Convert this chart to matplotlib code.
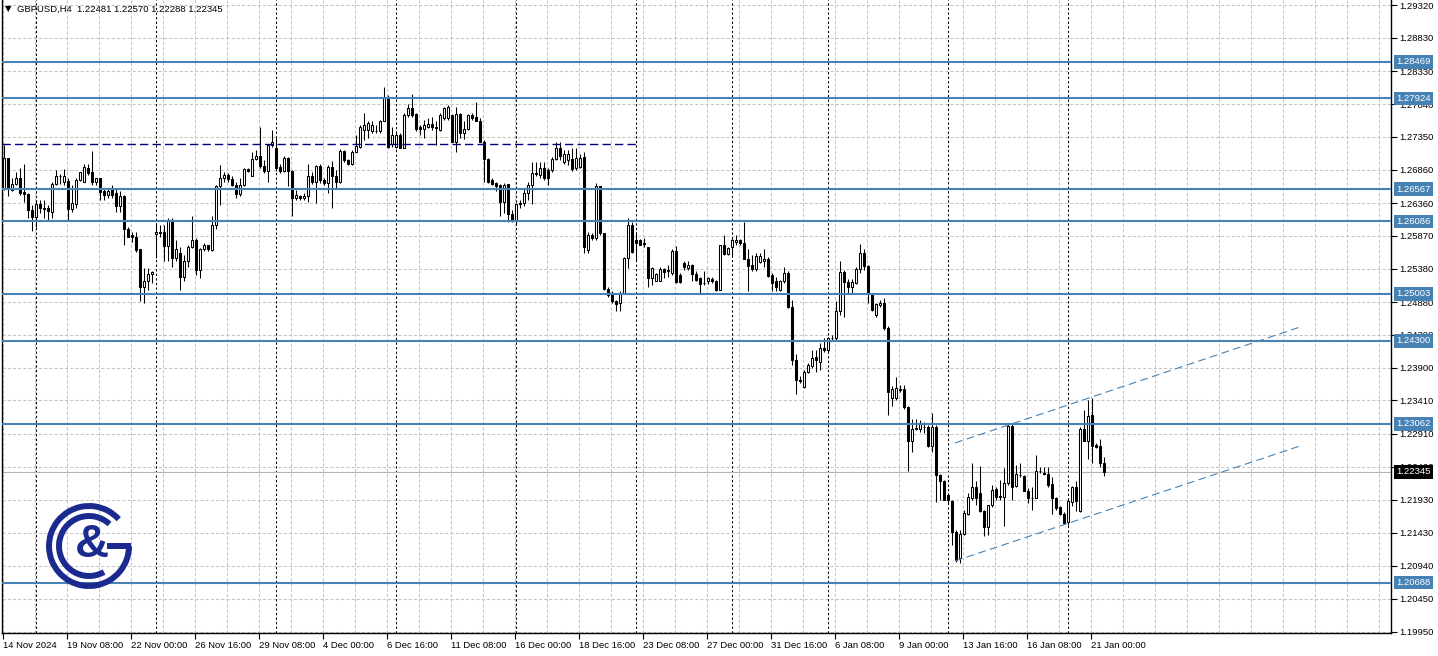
import matplotlib
matplotlib.use("Agg")
import matplotlib.pyplot as plt
import matplotlib.transforms as mtransforms
from matplotlib.patches import Arc
import numpy as np

plt.rcParams['font.family'] = ['Liberation Sans', 'DejaVu Sans']

# --- GBPUSD H4 candles, 14 Nov 2024 16:00 .. 21 Jan 2025 ---
opens = [
    1.2657, 1.2704, 1.2656, 1.2664, 1.2673, 1.2652, 1.2649, 1.2626, 1.2615, 1.2634,
    1.2628, 1.2629, 1.2623, 1.2664, 1.2677, 1.2668, 1.2669, 1.2627, 1.2635, 1.2671,
    1.2667, 1.2688, 1.2682, 1.2668, 1.2673, 1.2654, 1.2648, 1.2656, 1.2651, 1.2631,
    1.2646, 1.2598, 1.2588, 1.2586, 1.2567, 1.2510, 1.2519, 1.2530, 1.2590, 1.2593,
    1.2593, 1.2572, 1.2611, 1.2554, 1.2561, 1.2525, 1.2549, 1.2570, 1.2581, 1.2536,
    1.2567, 1.2573, 1.2566, 1.2603, 1.2662, 1.2673, 1.2678, 1.2672, 1.2663, 1.2649,
    1.2663, 1.2687, 1.2677, 1.2702, 1.2707, 1.2691, 1.2684, 1.2723, 1.2718, 1.2690,
    1.2684, 1.2703, 1.2684, 1.2643, 1.2646, 1.2644, 1.2646, 1.2677, 1.2668, 1.2691,
    1.2671, 1.2666, 1.2690, 1.2677, 1.2668, 1.2714, 1.2700, 1.2695, 1.2713, 1.2720,
    1.2745, 1.2745, 1.2743, 1.2744, 1.2743, 1.2759, 1.2795, 1.2725, 1.2720, 1.2738,
    1.2719, 1.2768, 1.2778, 1.2769, 1.2749, 1.2746, 1.2750, 1.2754, 1.2750, 1.2745,
    1.2763, 1.2763, 1.2768, 1.2728, 1.2769, 1.2740, 1.2747, 1.2768, 1.2765, 1.2759,
    1.2728, 1.2702, 1.2671, 1.2666, 1.2663, 1.2638, 1.2664, 1.2619, 1.2609, 1.2636,
    1.2636, 1.2651, 1.2663, 1.2681, 1.2678, 1.2688, 1.2686, 1.2686, 1.2702, 1.2719,
    1.2697, 1.2700, 1.2702, 1.2688, 1.2690, 1.2705, 1.2566, 1.2589, 1.2584, 1.2661,
    1.2591, 1.2508, 1.2500, 1.2490, 1.2486, 1.2501, 1.2554, 1.2603, 1.2581, 1.2581,
    1.2576, 1.2570, 1.2524, 1.2519, 1.2520, 1.2538, 1.2534, 1.2531, 1.2564, 1.2529,
    1.2546, 1.2539, 1.2544, 1.2530, 1.2524, 1.2516, 1.2519, 1.2523, 1.2520, 1.2506,
    1.2573, 1.2560, 1.2570, 1.2578, 1.2581, 1.2577, 1.2553, 1.2543, 1.2537, 1.2548,
    1.2550, 1.2553, 1.2528, 1.2519, 1.2506, 1.2519, 1.2532, 1.2480, 1.2402, 1.2371,
    1.2361, 1.2384, 1.2393, 1.2406, 1.2399, 1.2420, 1.2416, 1.2435, 1.2434, 1.2474,
    1.2533, 1.2518, 1.2511, 1.2517, 1.2537, 1.2562, 1.2542, 1.2500, 1.2469, 1.2484,
    1.2487, 1.2450, 1.2344, 1.2344, 1.2356, 1.2358, 1.2331, 1.2280, 1.2299, 1.2298,
    1.2302, 1.2302, 1.2273, 1.2302, 1.2230, 1.2221, 1.2200, 1.2191, 1.2145, 1.2105,
    1.2142, 1.2172, 1.2196, 1.2211, 1.2202, 1.2176, 1.2152, 1.2185, 1.2208, 1.2198,
    1.2197, 1.2217, 1.2303, 1.2213, 1.2230, 1.2228, 1.2206, 1.2196, 1.2196, 1.2235,
    1.2233, 1.2231, 1.2216, 1.2196, 1.2182, 1.2172, 1.2160, 1.2190, 1.2211, 1.2176,
    1.2298, 1.2281, 1.2319, 1.2274, 1.2273, 1.22481,
]
highs = [
    1.2723, 1.2704, 1.2673, 1.2682, 1.2689, 1.2695, 1.2651, 1.2633, 1.2641, 1.2641,
    1.2641, 1.2633, 1.2667, 1.2686, 1.2679, 1.2687, 1.2673, 1.2663, 1.2673, 1.2683,
    1.2694, 1.2694, 1.2714, 1.2674, 1.2674, 1.2658, 1.2659, 1.2663, 1.2658, 1.2654,
    1.2648, 1.2601, 1.2593, 1.2593, 1.2567, 1.2539, 1.2539, 1.2535, 1.2606, 1.2603,
    1.2603, 1.2613, 1.2613, 1.2581, 1.2571, 1.2559, 1.2573, 1.2616, 1.2584, 1.2569,
    1.2576, 1.2574, 1.2616, 1.2663, 1.2693, 1.2682, 1.2681, 1.2676, 1.2668, 1.2674,
    1.2689, 1.2688, 1.2713, 1.2715, 1.2750, 1.2700, 1.2725, 1.2745, 1.2733, 1.2695,
    1.2707, 1.2705, 1.2686, 1.2656, 1.2648, 1.2651, 1.2695, 1.2682, 1.2693, 1.2695,
    1.2673, 1.2693, 1.2699, 1.2686, 1.2717, 1.2715, 1.2702, 1.2715, 1.2738, 1.2753,
    1.2770, 1.2758, 1.2758, 1.2753, 1.2760, 1.2810, 1.2798, 1.2749, 1.2743, 1.2740,
    1.2770, 1.2784, 1.2799, 1.2770, 1.2753, 1.2760, 1.2763, 1.2765, 1.2758, 1.2770,
    1.2780, 1.2782, 1.2769, 1.2780, 1.2770, 1.2758, 1.2769, 1.2770, 1.2787, 1.2763,
    1.2730, 1.2703, 1.2673, 1.2667, 1.2664, 1.2666, 1.2664, 1.2626, 1.2636, 1.2641,
    1.2657, 1.2668, 1.2697, 1.2697, 1.2697, 1.2698, 1.2688, 1.2705, 1.2727, 1.2727,
    1.2715, 1.2715, 1.2718, 1.2718, 1.2710, 1.2713, 1.2593, 1.2591, 1.2666, 1.2662,
    1.2591, 1.2511, 1.2504, 1.2491, 1.2504, 1.2556, 1.2613, 1.2608, 1.2593, 1.2582,
    1.2584, 1.2571, 1.2540, 1.2531, 1.2541, 1.2539, 1.2544, 1.2567, 1.2572, 1.2531,
    1.2550, 1.2549, 1.2545, 1.2534, 1.2526, 1.2534, 1.2526, 1.2525, 1.2521, 1.2574,
    1.2589, 1.2571, 1.2586, 1.2588, 1.2583, 1.2607, 1.2567, 1.2558, 1.2561, 1.2561,
    1.2568, 1.2555, 1.2531, 1.2526, 1.2521, 1.2541, 1.2534, 1.2491, 1.2411, 1.2377,
    1.2387, 1.2397, 1.2416, 1.2416, 1.2427, 1.2434, 1.2436, 1.2439, 1.2489, 1.2550,
    1.2536, 1.2522, 1.2522, 1.2541, 1.2575, 1.2568, 1.2543, 1.2501, 1.2487, 1.2491,
    1.2494, 1.2452, 1.2363, 1.2376, 1.2364, 1.2364, 1.2332, 1.2314, 1.2314, 1.2312,
    1.2309, 1.2304, 1.2322, 1.2304, 1.2231, 1.2222, 1.2202, 1.2192, 1.2148, 1.2148,
    1.2177, 1.2202, 1.2247, 1.2220, 1.2243, 1.2178, 1.2185, 1.2215, 1.2212, 1.2222,
    1.2240, 1.2306, 1.2306, 1.2245, 1.2247, 1.2230, 1.2210, 1.2212, 1.2260, 1.2242,
    1.2242, 1.2242, 1.2227, 1.2197, 1.2183, 1.2175, 1.2195, 1.2213, 1.2220, 1.2302,
    1.2327, 1.2342, 1.2344, 1.2277, 1.2284, 1.22570,
]
lows = [
    1.2656, 1.2646, 1.2654, 1.2663, 1.2648, 1.2638, 1.2613, 1.2595, 1.2601, 1.2621,
    1.2613, 1.2611, 1.2614, 1.2663, 1.2665, 1.2663, 1.2611, 1.2622, 1.2628, 1.2669,
    1.2667, 1.2678, 1.2663, 1.2663, 1.2641, 1.2641, 1.2643, 1.2643, 1.2622, 1.2622,
    1.2574, 1.2585, 1.2578, 1.2563, 1.2490, 1.2486, 1.2506, 1.2516, 1.2554, 1.2586,
    1.2549, 1.2549, 1.2541, 1.2549, 1.2506, 1.2519, 1.2541, 1.2569, 1.2529, 1.2524,
    1.2565, 1.2565, 1.2565, 1.2598, 1.2633, 1.2668, 1.2668, 1.2661, 1.2643, 1.2646,
    1.2661, 1.2682, 1.2676, 1.2700, 1.2688, 1.2681, 1.2668, 1.2720, 1.2684, 1.2681,
    1.2682, 1.2661, 1.2616, 1.2641, 1.2641, 1.2641, 1.2638, 1.2664, 1.2636, 1.2666,
    1.2663, 1.2651, 1.2628, 1.2658, 1.2666, 1.2697, 1.2693, 1.2693, 1.2713, 1.2718,
    1.2730, 1.2733, 1.2740, 1.2740, 1.2740, 1.2758, 1.2718, 1.2720, 1.2718, 1.2718,
    1.2718, 1.2765, 1.2765, 1.2743, 1.2738, 1.2734, 1.2748, 1.2745, 1.2723, 1.2743,
    1.2760, 1.2760, 1.2727, 1.2713, 1.2733, 1.2732, 1.2745, 1.2760, 1.2758, 1.2727,
    1.2668, 1.2666, 1.2663, 1.2654, 1.2617, 1.2621, 1.2608, 1.2608, 1.2603, 1.2628,
    1.2631, 1.2641, 1.2634, 1.2676, 1.2674, 1.2671, 1.2663, 1.2682, 1.2700, 1.2700,
    1.2695, 1.2693, 1.2684, 1.2686, 1.2688, 1.2561, 1.2561, 1.2581, 1.2581, 1.2588,
    1.2506, 1.2496, 1.2486, 1.2474, 1.2474, 1.2500, 1.2539, 1.2561, 1.2549, 1.2573,
    1.2571, 1.2511, 1.2514, 1.2519, 1.2519, 1.2524, 1.2526, 1.2529, 1.2516, 1.2516,
    1.2536, 1.2536, 1.2519, 1.2519, 1.2500, 1.2514, 1.2515, 1.2516, 1.2504, 1.2506,
    1.2559, 1.2558, 1.2556, 1.2573, 1.2573, 1.2552, 1.2505, 1.2535, 1.2535, 1.2546,
    1.2541, 1.2526, 1.2504, 1.2505, 1.2505, 1.2517, 1.2479, 1.2394, 1.2351, 1.2367,
    1.2359, 1.2382, 1.2389, 1.2384, 1.2386, 1.2414, 1.2414, 1.2431, 1.2432, 1.2469,
    1.2466, 1.2501, 1.2501, 1.2515, 1.2531, 1.2536, 1.2486, 1.2474, 1.2466, 1.2481,
    1.2446, 1.2319, 1.2332, 1.2342, 1.2353, 1.2328, 1.2236, 1.2264, 1.2297, 1.2294,
    1.2292, 1.2272, 1.2264, 1.2190, 1.2192, 1.2192, 1.2188, 1.2125, 1.2100, 1.2098,
    1.2140, 1.2170, 1.2192, 1.2185, 1.2175, 1.2138, 1.2140, 1.2182, 1.2192, 1.2192,
    1.2154, 1.2215, 1.2192, 1.2212, 1.2227, 1.2205, 1.2188, 1.2178, 1.2195, 1.2232,
    1.2230, 1.2212, 1.2172, 1.2177, 1.2170, 1.2156, 1.2155, 1.2183, 1.2176, 1.2175,
    1.2280, 1.2253, 1.2248, 1.2270, 1.2242, 1.22288,
]
closes = [
    1.2703, 1.2658, 1.2665, 1.2673, 1.2651, 1.2650, 1.2625, 1.2615, 1.2635, 1.2628,
    1.2627, 1.2624, 1.2664, 1.2677, 1.2676, 1.2677, 1.2627, 1.2636, 1.2671, 1.2682,
    1.2690, 1.2681, 1.2668, 1.2673, 1.2653, 1.2648, 1.2654, 1.2648, 1.2631, 1.2646,
    1.2598, 1.2586, 1.2586, 1.2566, 1.2510, 1.2519, 1.2530, 1.2533, 1.2593, 1.2592,
    1.2572, 1.2611, 1.2554, 1.2567, 1.2525, 1.2549, 1.2570, 1.2581, 1.2536, 1.2567,
    1.2573, 1.2567, 1.2603, 1.2662, 1.2674, 1.2678, 1.2672, 1.2663, 1.2649, 1.2663,
    1.2687, 1.2684, 1.2702, 1.2707, 1.2691, 1.2684, 1.2723, 1.2727, 1.2689, 1.2684,
    1.2703, 1.2684, 1.2643, 1.2648, 1.2643, 1.2647, 1.2676, 1.2668, 1.2691, 1.2671,
    1.2666, 1.2690, 1.2677, 1.2668, 1.2714, 1.2700, 1.2695, 1.2713, 1.2721, 1.2750,
    1.2752, 1.2755, 1.2752, 1.2743, 1.2759, 1.2794, 1.2720, 1.2738, 1.2738, 1.2719,
    1.2768, 1.2778, 1.2768, 1.2746, 1.2746, 1.2753, 1.2754, 1.2749, 1.2748, 1.2768,
    1.2778, 1.2779, 1.2728, 1.2769, 1.2740, 1.2747, 1.2767, 1.2763, 1.2759, 1.2728,
    1.2702, 1.2668, 1.2664, 1.2662, 1.2638, 1.2663, 1.2619, 1.2611, 1.2634, 1.2634,
    1.2651, 1.2663, 1.2681, 1.2679, 1.2688, 1.2673, 1.2673, 1.2702, 1.2719, 1.2707,
    1.2709, 1.2710, 1.2687, 1.2704, 1.2704, 1.2571, 1.2589, 1.2584, 1.2661, 1.2591,
    1.2508, 1.2499, 1.2489, 1.2485, 1.2501, 1.2554, 1.2603, 1.2563, 1.2576, 1.2574,
    1.2575, 1.2524, 1.2539, 1.2530, 1.2538, 1.2533, 1.2536, 1.2564, 1.2518, 1.2518,
    1.2540, 1.2544, 1.2530, 1.2521, 1.2515, 1.2517, 1.2524, 1.2519, 1.2506, 1.2573,
    1.2560, 1.2569, 1.2581, 1.2581, 1.2576, 1.2553, 1.2542, 1.2537, 1.2557, 1.2557,
    1.2553, 1.2527, 1.2517, 1.2511, 1.2520, 1.2532, 1.2480, 1.2401, 1.2371, 1.2370,
    1.2384, 1.2394, 1.2405, 1.2401, 1.2419, 1.2416, 1.2434, 1.2434, 1.2474, 1.2533,
    1.2518, 1.2511, 1.2518, 1.2537, 1.2562, 1.2542, 1.2500, 1.2476, 1.2485, 1.2487,
    1.2449, 1.2354, 1.2358, 1.2359, 1.2358, 1.2331, 1.2280, 1.2299, 1.2300, 1.2306,
    1.2301, 1.2273, 1.2302, 1.2230, 1.2221, 1.2193, 1.2192, 1.2145, 1.2103, 1.2142,
    1.2173, 1.2197, 1.2211, 1.2196, 1.2176, 1.2152, 1.2185, 1.2207, 1.2197, 1.2197,
    1.2217, 1.2303, 1.2212, 1.2231, 1.2229, 1.2206, 1.2196, 1.2195, 1.2236, 1.2236,
    1.2231, 1.2215, 1.2195, 1.2181, 1.2171, 1.2158, 1.2191, 1.2211, 1.2191, 1.2298,
    1.2281, 1.2318, 1.2273, 1.2272, 1.2248, 1.22345,
]

# horizontal levels drawn on the chart
levels = [1.28469, 1.27924, 1.26567, 1.26086, 1.25003, 1.24300, 1.23062, 1.20688]
dash_level = 1.2725
dash_end = 158
# rising channel (bar index, price)
channel_x = [237.75, 324.0]
channel_upper = [1.22775, 1.24508]
channel_lower = [1.21011, 1.22730]

y_ticks = [1.29320, 1.28830, 1.28330, 1.27840, 1.27350, 1.26860, 1.26360, 1.25870,
           1.25380, 1.24880, 1.24390, 1.23900, 1.23410, 1.22910, 1.22420, 1.21930,
           1.21430, 1.20940, 1.20450, 1.19950]
x_labels = ["14 Nov 2024", "19 Nov 08:00", "22 Nov 00:00", "26 Nov 16:00", "29 Nov 08:00",
            "4 Dec 00:00", "6 Dec 16:00", "11 Dec 08:00", "16 Dec 00:00", "18 Dec 16:00",
            "23 Dec 08:00", "27 Dec 00:00", "31 Dec 16:00", "6 Jan 08:00", "9 Jan 00:00",
            "13 Jan 16:00", "16 Jan 08:00", "21 Jan 00:00"]
week_starts = [8, 38, 68, 98, 128, 158, 182, 206, 236, 266]

W, H = 1438, 656
fig = plt.figure(figsize=(W / 100, H / 100), dpi=100)
fig.patch.set_facecolor('white')
ax = fig.add_axes([2 / W, 23 / H, 1389 / W, 633 / H])
ax.set_xlim(-0.5, 346.75)
ax.set_ylim(1.19935, 1.29395)

grid_col = '#c4c4c4'
for t in y_ticks:
    ax.axhline(t, color=grid_col, lw=0.75, ls=(0, (3, 2)), zorder=0)
for k in range(0, 44):
    ax.axvline(8 * k - 0.25, color=grid_col, lw=0.75, ls=(0, (3, 2)), zorder=0)
for w in week_starts:
    ax.axvline(w, color='black', lw=0.75, ls=(0, (2.2, 2.2)), zorder=1)

ax.axhline(closes[-1], color='#b4b4b4', lw=0.8, zorder=1)

# candles
o = np.array(opens)
c = np.array(closes)
h = np.maximum(np.array(highs), np.maximum(o, c))
l = np.minimum(np.array(lows), np.minimum(o, c))
idx = np.arange(len(c))
ax.vlines(idx, l, h, color='black', lw=0.75, zorder=3)
bottom = np.minimum(o, c)
height = np.maximum(np.abs(c - o), 0.00002)
face = ['white' if cc >= oo else 'black' for oo, cc in zip(o, c)]
ax.bar(idx, height, bottom=bottom, width=0.55, color=face, edgecolor='black',
       linewidth=0.75, zorder=4)

# levels and drawings
blue = '#4682b4'
for lv in levels:
    ax.axhline(lv, color=blue, lw=1.5, zorder=5)
ax.plot([-0.5, dash_end], [dash_level, dash_level], color='#000080', lw=1,
        ls=(0, (6, 3)), zorder=5)
ax.plot(channel_x, channel_upper, color=blue, lw=0.8, ls=(0, (7, 4)), zorder=5)
ax.plot(channel_x, channel_lower, color=blue, lw=0.8, ls=(0, (7, 4)), zorder=5)

# axes
for s in ['top']:
    ax.spines[s].set_visible(False)
for s in ['left', 'right', 'bottom']:
    ax.spines[s].set_color('black')
    ax.spines[s].set_linewidth(1)
ax.yaxis.tick_right()
ax.set_yticks(y_ticks)
ax.set_yticklabels([f"{t:.5f}" for t in y_ticks])
ax.tick_params(axis='y', length=4, width=0.8, pad=2, labelsize=6.8, colors='black')
ax.set_xticks([16 * k - 0.25 for k in range(len(x_labels))])
ax.set_xticklabels(x_labels)
for lab in ax.get_xticklabels():
    lab.set_horizontalalignment('left')
ax.tick_params(axis='x', length=4, width=0.8, pad=2, labelsize=6.8, colors='black')

trans = mtransforms.blended_transform_factory(ax.transAxes, ax.transData)
for lv in levels:
    ax.text(1.0036, lv, f"{lv:.5f}", transform=trans, color='white', fontsize=6.8,
            va='center', ha='left', clip_on=False, zorder=10,
            bbox=dict(boxstyle='square,pad=0.25', fc=blue, ec='none'))
ax.text(1.0036, closes[-1], f"{closes[-1]:.5f}", transform=trans, color='white',
        fontsize=6.8, va='center', ha='left', clip_on=False, zorder=10,
        bbox=dict(boxstyle='square,pad=0.25', fc='black', ec='none'))

# header
fig.text(5 / W, 1 - 9 / H, "\u25bc", fontsize=6, va='center', ha='left',
         family=['DejaVu Sans'])
fig.text(17 / W, 1 - 9 / H,
         f"GBPUSD,H4  {opens[-1]:.5f} {highs[-1]:.5f} {lows[-1]:.5f} {closes[-1]:.5f}",
         fontsize=6.8, va='center', ha='left')

# logo
navy = '#1b2a8e'
lax = fig.add_axes([44 / W, (H - 591) / H, 90 / W, 90 / H])
lax.set_xlim(-45, 45)
lax.set_ylim(-45, 45)
lax.axis('off')
lax.add_patch(Arc((0, 0), 80, 80, theta1=42, theta2=360, lw=4.3, color=navy))
lax.plot([18, 42], [0, 0], lw=4.3, color=navy, solid_capstyle='butt')
lax.add_patch(Arc((0, 0), 60, 60, theta1=47, theta2=300, lw=4.3, color=navy))
lax.text(3, 1, "&", fontsize=34, fontweight='bold', color=navy, ha='center',
         va='center', family=['Liberation Sans'])

fig.savefig("out.png", dpi=100)
